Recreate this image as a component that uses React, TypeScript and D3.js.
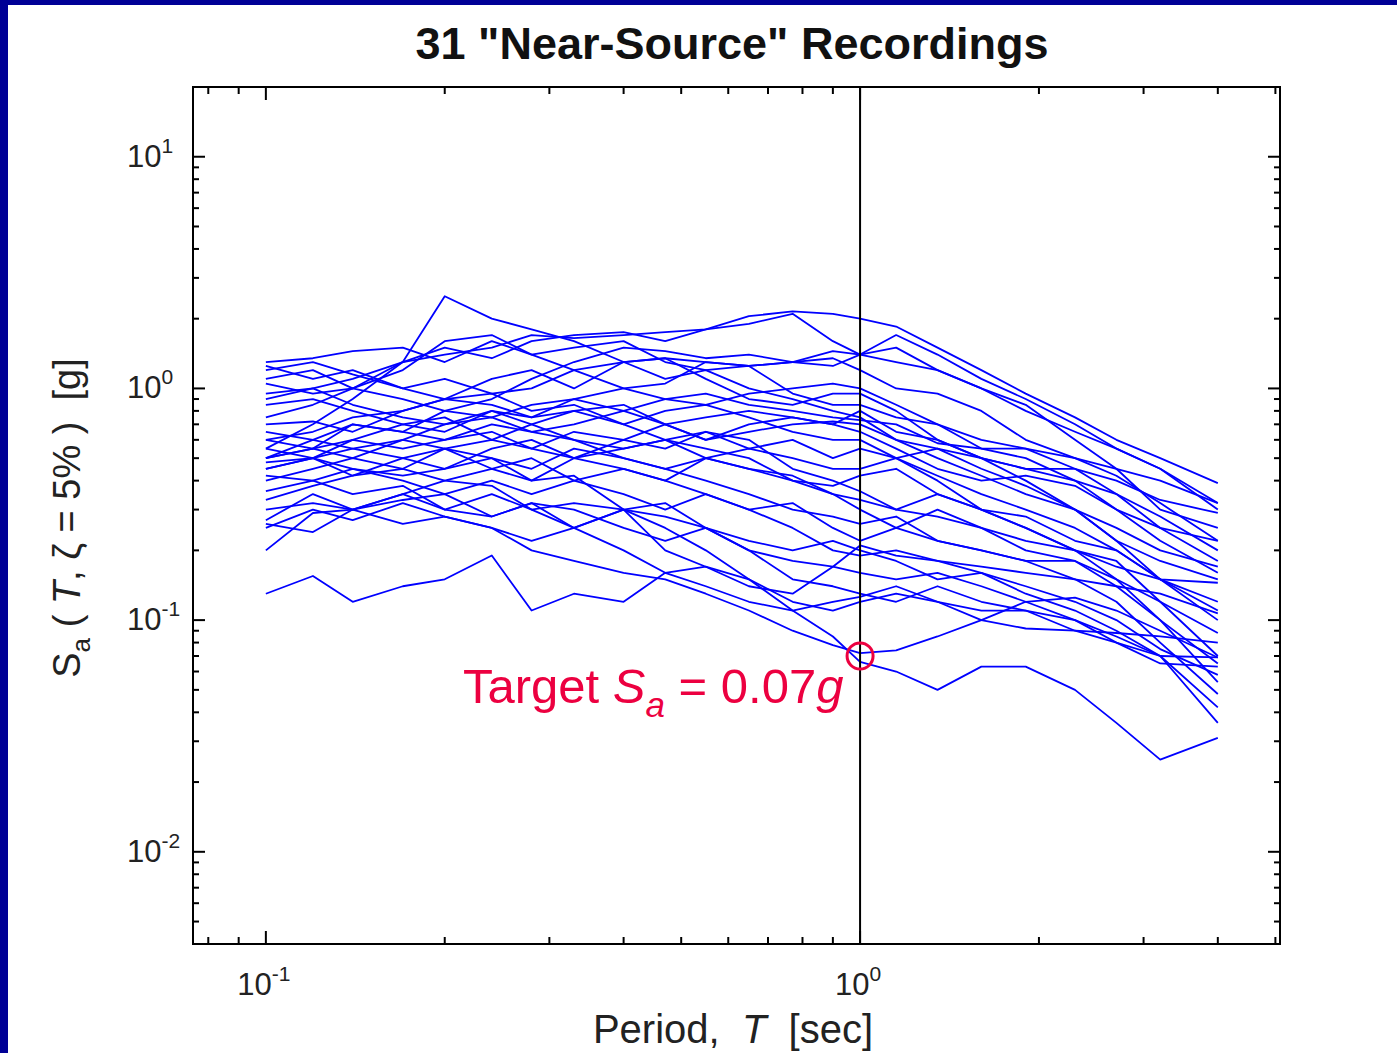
import React from 'react';
import * as d3 from 'd3';

// Periods (sec) at which each spectrum is sampled
const periods = [0.1, 0.12, 0.14, 0.17, 0.2, 0.24, 0.28, 0.33, 0.4, 0.47, 0.55, 0.65, 0.77, 0.9, 1.0, 1.15, 1.35, 1.6, 1.9, 2.3, 2.7, 3.2, 4.0];

// Spectral acceleration Sa [g] of the 31 near-source recordings
const rec01 = [0.9, 1.0, 1.1, 1.3, 1.5, 1.35, 1.6, 1.7, 1.75, 1.6, 1.8, 2.05, 2.15, 2.1, 2.0, 1.85, 1.5, 1.2, 0.95, 0.75, 0.6, 0.5, 0.39];
const rec02 = [0.55, 0.7, 0.9, 1.3, 2.5, 2.0, 1.8, 1.6, 1.3, 1.1, 1.2, 1.0, 0.9, 0.8, 0.75, 0.6, 0.5, 0.42, 0.35, 0.3, 0.22, 0.18, 0.15];
const rec03 = [1.1, 1.2, 1.0, 1.3, 1.4, 1.5, 1.7, 1.65, 1.7, 1.75, 1.8, 1.9, 2.1, 1.6, 1.4, 1.5, 1.2, 1.0, 0.85, 0.6, 0.45, 0.3, 0.25];
const rec04 = [1.3, 1.35, 1.45, 1.5, 1.3, 1.6, 1.4, 1.2, 1.3, 1.35, 1.3, 1.25, 1.3, 1.45, 1.4, 1.7, 1.4, 1.1, 0.9, 0.7, 0.55, 0.45, 0.32];
const rec05 = [0.75, 0.85, 1.0, 1.2, 1.6, 1.7, 1.4, 1.5, 1.6, 1.3, 1.2, 1.25, 1.3, 1.35, 1.2, 1.0, 0.95, 0.8, 0.6, 0.5, 0.42, 0.32, 0.22];
const rec06 = [1.2, 1.3, 1.15, 1.0, 1.1, 0.95, 1.0, 1.2, 1.0, 0.9, 0.85, 0.95, 1.0, 1.05, 1.0, 0.85, 0.7, 0.6, 0.55, 0.45, 0.35, 0.28, 0.2];
const rec07 = [0.6, 0.65, 0.75, 0.8, 0.9, 1.1, 1.2, 1.0, 1.3, 1.35, 1.1, 0.9, 0.85, 0.95, 0.95, 0.8, 0.6, 0.5, 0.4, 0.3, 0.25, 0.2, 0.17];
const rec08 = [0.5, 0.55, 0.6, 0.7, 0.65, 0.8, 0.75, 0.9, 1.0, 1.05, 1.3, 1.25, 0.95, 0.85, 0.85, 0.75, 0.7, 0.55, 0.55, 0.5, 0.45, 0.4, 0.32];
const rec09 = [1.05, 0.95, 1.0, 0.9, 0.8, 0.75, 0.85, 0.9, 0.8, 0.7, 0.75, 0.8, 0.75, 0.7, 0.8, 0.65, 0.6, 0.5, 0.45, 0.45, 0.4, 0.33, 0.29];
const rec10 = [0.45, 0.5, 0.55, 0.6, 0.7, 0.75, 0.65, 0.7, 0.8, 0.9, 0.95, 0.85, 0.8, 0.75, 0.73, 0.7, 0.58, 0.55, 0.5, 0.4, 0.3, 0.22, 0.16];
const rec11 = [0.85, 0.9, 0.8, 0.7, 0.75, 0.6, 0.7, 0.8, 0.85, 0.7, 0.6, 0.65, 0.7, 0.72, 0.7, 0.6, 0.55, 0.45, 0.38, 0.3, 0.22, 0.15, 0.11];
const rec12 = [0.55, 0.5, 0.6, 0.55, 0.6, 0.65, 0.55, 0.65, 0.6, 0.7, 0.6, 0.7, 0.75, 0.7, 0.65, 0.55, 0.45, 0.4, 0.42, 0.38, 0.3, 0.25, 0.22];
const rec13 = [0.7, 0.72, 0.65, 0.8, 0.9, 0.85, 0.75, 0.8, 0.7, 0.8, 0.85, 0.75, 0.65, 0.6, 0.6, 0.5, 0.42, 0.35, 0.3, 0.25, 0.2, 0.15, 0.1];
const rec14 = [0.4, 0.45, 0.5, 0.45, 0.55, 0.6, 0.55, 0.5, 0.6, 0.55, 0.65, 0.55, 0.6, 0.5, 0.55, 0.5, 0.55, 0.5, 0.45, 0.4, 0.35, 0.25, 0.18];
const rec15 = [0.5, 0.55, 0.5, 0.6, 0.55, 0.5, 0.45, 0.55, 0.5, 0.45, 0.5, 0.55, 0.5, 0.45, 0.45, 0.5, 0.4, 0.3, 0.25, 0.2, 0.15, 0.12, 0.088];
const rec16 = [0.95, 1.0, 0.85, 0.75, 0.7, 0.8, 0.7, 0.6, 0.55, 0.6, 0.5, 0.45, 0.4, 0.38, 0.42, 0.45, 0.35, 0.3, 0.28, 0.22, 0.2, 0.15, 0.12];
const rec17 = [0.33, 0.38, 0.42, 0.5, 0.45, 0.55, 0.6, 0.5, 0.55, 0.6, 0.65, 0.6, 0.45, 0.4, 0.36, 0.3, 0.28, 0.25, 0.2, 0.18, 0.14, 0.1, 0.065];
const rec18 = [0.27, 0.35, 0.3, 0.35, 0.4, 0.45, 0.4, 0.5, 0.45, 0.4, 0.5, 0.45, 0.42, 0.35, 0.33, 0.3, 0.35, 0.3, 0.25, 0.2, 0.17, 0.15, 0.145];
const rec19 = [1.25, 1.1, 1.2, 1.0, 0.9, 0.95, 0.8, 0.85, 0.7, 0.6, 0.55, 0.5, 0.4, 0.35, 0.3, 0.25, 0.3, 0.25, 0.22, 0.2, 0.18, 0.12, 0.07];
const rec20 = [0.6, 0.55, 0.7, 0.65, 0.6, 0.7, 0.65, 0.6, 0.5, 0.45, 0.4, 0.35, 0.3, 0.28, 0.26, 0.28, 0.22, 0.2, 0.18, 0.18, 0.15, 0.1, 0.054];
const rec21 = [0.42, 0.4, 0.45, 0.4, 0.35, 0.4, 0.35, 0.4, 0.45, 0.4, 0.35, 0.3, 0.32, 0.25, 0.22, 0.25, 0.22, 0.2, 0.18, 0.15, 0.12, 0.08, 0.048];
const rec22 = [0.65, 0.6, 0.55, 0.5, 0.55, 0.45, 0.5, 0.4, 0.35, 0.3, 0.35, 0.3, 0.25, 0.2, 0.19, 0.2, 0.18, 0.16, 0.14, 0.12, 0.1, 0.075, 0.058];
const rec23 = [0.36, 0.4, 0.35, 0.38, 0.3, 0.35, 0.3, 0.25, 0.3, 0.28, 0.25, 0.22, 0.2, 0.22, 0.2, 0.18, 0.15, 0.16, 0.13, 0.11, 0.09, 0.07, 0.042];
const rec24 = [0.3, 0.32, 0.3, 0.33, 0.35, 0.28, 0.32, 0.3, 0.25, 0.22, 0.25, 0.2, 0.18, 0.17, 0.16, 0.15, 0.16, 0.14, 0.12, 0.1, 0.08, 0.065, 0.063];
const rec25 = [0.2, 0.29, 0.3, 0.35, 0.3, 0.28, 0.32, 0.25, 0.3, 0.32, 0.25, 0.2, 0.15, 0.14, 0.13, 0.12, 0.14, 0.12, 0.11, 0.1, 0.085, 0.07, 0.036];
const rec26 = [0.48, 0.5, 0.45, 0.42, 0.45, 0.5, 0.4, 0.42, 0.3, 0.2, 0.17, 0.15, 0.12, 0.11, 0.12, 0.13, 0.12, 0.11, 0.11, 0.09, 0.08, 0.07, 0.069];
const rec27 = [0.26, 0.24, 0.3, 0.26, 0.28, 0.25, 0.22, 0.25, 0.2, 0.16, 0.17, 0.14, 0.13, 0.17, 0.21, 0.19, 0.18, 0.17, 0.16, 0.15, 0.14, 0.13, 0.107];
const rec28 = [0.13, 0.155, 0.12, 0.14, 0.15, 0.19, 0.11, 0.13, 0.12, 0.16, 0.14, 0.12, 0.11, 0.12, 0.126, 0.14, 0.12, 0.1, 0.092, 0.09, 0.088, 0.085, 0.08];
const rec29 = [0.25, 0.3, 0.27, 0.32, 0.28, 0.25, 0.2, 0.18, 0.16, 0.15, 0.13, 0.11, 0.09, 0.078, 0.072, 0.074, 0.085, 0.1, 0.12, 0.125, 0.11, 0.09, 0.069];
const rec30 = [0.45, 0.5, 0.42, 0.45, 0.4, 0.38, 0.3, 0.32, 0.3, 0.25, 0.2, 0.15, 0.11, 0.085, 0.066, 0.06, 0.05, 0.063, 0.063, 0.05, 0.036, 0.025, 0.031];
const rec31 = [0.5, 0.6, 0.7, 0.65, 0.8, 0.9, 1.1, 1.3, 1.5, 1.45, 1.35, 1.4, 1.3, 1.25, 1.4, 1.3, 1.2, 1.0, 0.8, 0.65, 0.55, 0.45, 0.3];

const recordings = [rec01, rec02, rec03, rec04, rec05, rec06, rec07, rec08, rec09, rec10, rec11, rec12, rec13, rec14, rec15, rec16, rec17, rec18, rec19, rec20, rec21, rec22, rec23, rec24, rec25, rec26, rec27, rec28, rec29, rec30, rec31];

// Axis limits and ticks
const xDomain = [0.0754, 5.09];
const yDomain = [0.004, 20];
const xMajorTicks = [0.1, 1];
const xMajorExponents = ['-1', '0'];
const xMinorTicks = [0.08, 0.09, 0.2, 0.3, 0.4, 0.5, 0.6, 0.7, 0.8, 0.9, 2, 3, 4, 5];
const yMajorTicks = [0.01, 0.1, 1, 10];
const yMajorExponents = ['-2', '-1', '0', '1'];
const yMinorTicks = [0.005, 0.006, 0.007, 0.008, 0.009, 0.02, 0.03, 0.04, 0.05, 0.06, 0.07, 0.08, 0.09, 0.2, 0.3, 0.4, 0.5, 0.6, 0.7, 0.8, 0.9, 2, 3, 4, 5, 6, 7, 8, 9];

const targetPeriod = 1.0;
const targetSa = 0.07;

export default function App() {
  const W = 1397;
  const H = 1053;
  const left = 193, top = 87, right = 1280, bottom = 944;
  const x = d3.scaleLog().domain(xDomain).range([left, right]);
  const y = d3.scaleLog().domain(yDomain).range([bottom, top]);
  const line = d3.line<number>().x((_, i) => x(periods[i])).y((d) => y(d));
  const font = '"Liberation Sans", Arial, Helvetica, sans-serif';
  const tickColor = '#000';
  const labelColor = '#222';
  const red = '#ec0040';

  return (
    <svg width={W} height={H} style={{ position: 'absolute', left: 0, top: 0, background: '#fff' }}>
      <rect x={0} y={0} width={W} height={H} fill="#fff" />
      <rect x={0} y={0} width={W} height={5} fill="#000096" />
      <rect x={0} y={0} width={8} height={H} fill="#000096" />

      {/* Title */}
      <text x={732} y={59} textAnchor="middle" fontFamily={font} fontSize={45} fontWeight="bold" fill="#111">
        31 "Near-Source" Recordings
      </text>

      {/* curves */}
      <g fill="none" stroke="#0000ff" strokeWidth={1.8} strokeLinejoin="round">
        {recordings.map((r, i) => (
          <path key={i} d={line(r) || ''} />
        ))}
      </g>

      {/* vertical line at T = 1 */}
      <line x1={x(targetPeriod)} x2={x(targetPeriod)} y1={top} y2={bottom} stroke="#000" strokeWidth={2} />

      {/* axes box */}
      <rect x={left} y={top} width={right - left} height={bottom - top} fill="none" stroke="#000" strokeWidth={2} />

      {/* ticks */}
      <g stroke={tickColor} strokeWidth={2}>
        {xMajorTicks.map((t) => (
          <g key={'xM' + t}>
            <line x1={x(t)} x2={x(t)} y1={bottom} y2={bottom - 13} />
            <line x1={x(t)} x2={x(t)} y1={top} y2={top + 13} />
          </g>
        ))}
        {xMinorTicks.map((t) => (
          <g key={'xm' + t}>
            <line x1={x(t)} x2={x(t)} y1={bottom} y2={bottom - 7} />
            <line x1={x(t)} x2={x(t)} y1={top} y2={top + 7} />
          </g>
        ))}
        {yMajorTicks.map((t) => (
          <g key={'yM' + t}>
            <line x1={left} x2={left + 12} y1={y(t)} y2={y(t)} />
            <line x1={right} x2={right - 12} y1={y(t)} y2={y(t)} />
          </g>
        ))}
        {yMinorTicks.map((t) => (
          <g key={'ym' + t}>
            <line x1={left} x2={left + 6} y1={y(t)} y2={y(t)} />
            <line x1={right} x2={right - 6} y1={y(t)} y2={y(t)} />
          </g>
        ))}
      </g>

      {/* x tick labels */}
      {xMajorTicks.map((t, i) => (
        <text key={'xl' + t} x={x(t) - 2} y={995} textAnchor="middle" fontFamily={font} fontSize={31} fill={labelColor}>
          10
          <tspan dy={-14} fontSize={21}>{xMajorExponents[i]}</tspan>
        </text>
      ))}

      {/* y tick labels */}
      {yMajorTicks.map((t, i) => (
        <text key={'yl' + t} x={127} y={y(t) + 10} textAnchor="start" fontFamily={font} fontSize={31} fill={labelColor}>
          10
          <tspan dy={-14} fontSize={21}>{yMajorExponents[i]}</tspan>
        </text>
      ))}

      {/* x axis label */}
      <text x={733} y={1043} textAnchor="middle" fontFamily={font} fontSize={40} fill={labelColor} style={{ whiteSpace: 'pre' }}>
        {'Period,  '}
        <tspan fontStyle="italic">T</tspan>
        {'  [sec]'}
      </text>

      {/* y axis label */}
      <text
        transform="translate(80,518) rotate(-90)"
        textAnchor="middle"
        fontFamily={font}
        fontSize={38}
        fill={labelColor}
        style={{ whiteSpace: 'pre' }}
      >
        S
        <tspan dy={10} fontSize={26}>a</tspan>
        <tspan dy={-10}>{' ( '}</tspan>
        <tspan fontStyle="italic">T</tspan>
        {', ζ = 5% )  [g]'}
      </text>

      {/* target marker */}
      <circle cx={x(targetPeriod)} cy={y(targetSa)} r={13} fill="none" stroke={red} strokeWidth={3} />
      <text x={463} y={703} fontFamily={font} fontSize={49} fill={red} style={{ whiteSpace: 'pre' }}>
        {'Target '}
        <tspan fontStyle="italic">S</tspan>
        <tspan dy={14} fontSize={35} fontStyle="italic">a</tspan>
        <tspan dy={-14}>{' = 0.07'}</tspan>
        <tspan fontStyle="italic">g</tspan>
      </text>
    </svg>
  );
}
